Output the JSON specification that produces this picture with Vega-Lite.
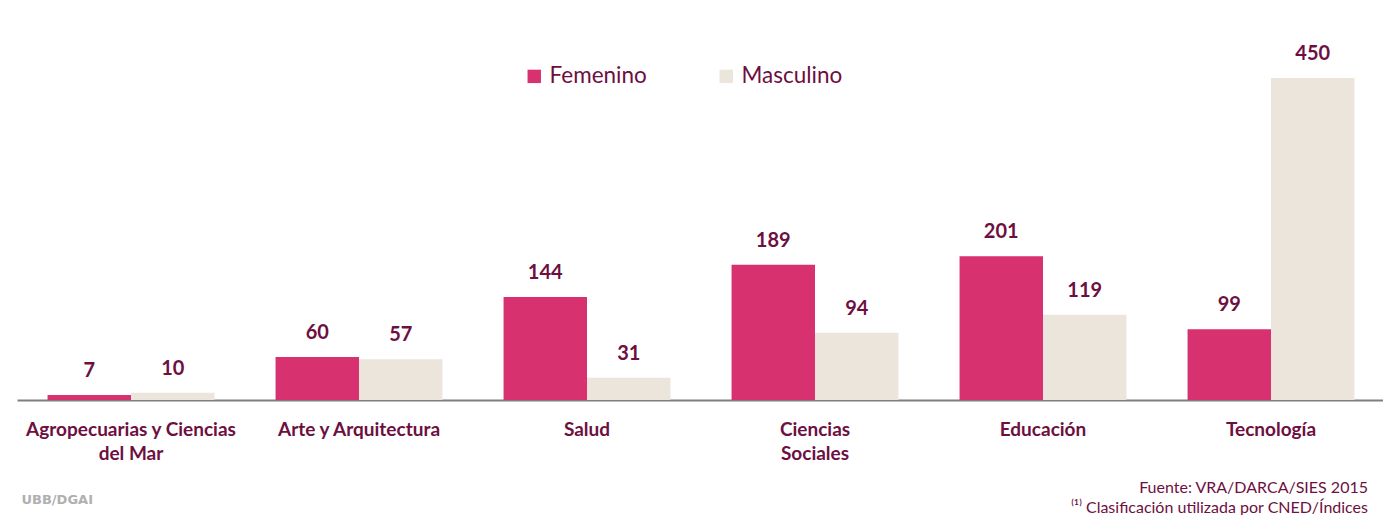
{
  "$schema": "https://vega.github.io/schema/vega-lite/v6.json",
  "autosize": {"type": "none"},
  "width": 1368,
  "height": 322,
  "padding": {"left": 17, "top": 78, "right": 0, "bottom": 115},
  "background": "white",
  "title": {
    "text": "Fuente: VRA/DARCA/SIES 2015",
    "subtitle": "⁽¹⁾ Clasificación utilizada por CNED/Índices",
    "orient": "bottom",
    "anchor": "end",
    "dx": -17,
    "dy": -26,
    "font": "Lato",
    "fontSize": 16,
    "fontWeight": "normal",
    "color": "#6d0f3f",
    "subtitleFont": "Lato",
    "subtitleFontSize": 16,
    "subtitleColor": "#6d0f3f",
    "subtitlePadding": 4,
    "offset": 0
  },
  "data": {
    "values": [
      {"area": "Agropecuarias y Ciencias del Mar", "genero": "Femenino", "valor": 7},
      {"area": "Agropecuarias y Ciencias del Mar", "genero": "Masculino", "valor": 10},
      {"area": "Arte y Arquitectura", "genero": "Femenino", "valor": 60},
      {"area": "Arte y Arquitectura", "genero": "Masculino", "valor": 57},
      {"area": "Salud", "genero": "Femenino", "valor": 144},
      {"area": "Salud", "genero": "Masculino", "valor": 31},
      {"area": "Ciencias Sociales", "genero": "Femenino", "valor": 189},
      {"area": "Ciencias Sociales", "genero": "Masculino", "valor": 94},
      {"area": "Educación", "genero": "Femenino", "valor": 201},
      {"area": "Educación", "genero": "Masculino", "valor": 119},
      {"area": "Tecnología", "genero": "Femenino", "valor": 99},
      {"area": "Tecnología", "genero": "Masculino", "valor": 450}
    ]
  },
  "encoding": {
    "x": {
      "field": "area",
      "type": "nominal",
      "sort": null,
      "scale": {"paddingInner": 0.268, "paddingOuter": 0.134},
      "axis": {
        "title": "UBB/DGAI",
        "titleAnchor": "start",
        "titleColor": "#b0b0b0",
        "titleFont": "DejaVu Sans",
        "titleFontSize": 13,
        "titleFontWeight": "bold",
        "titlePadding": 30,
        "titleX": 4,
        "labelAngle": 0,
        "ticks": false,
        "domainColor": "#7f7f7f",
        "domainWidth": 2,
        "labelPadding": 20,
        "labelFont": "Lato",
        "labelFontSize": 19,
        "labelFontWeight": "bold",
        "labelColor": "#6d0f3f",
        "labelLineHeight": 24,
        "labelLimit": 400,
        "labelExpr": "datum.label == 'Agropecuarias y Ciencias del Mar' ? ['Agropecuarias y Ciencias', 'del Mar'] : datum.label == 'Ciencias Sociales' ? ['Ciencias', 'Sociales'] : datum.label"
      }
    },
    "xOffset": {"field": "genero", "type": "nominal", "scale": {"paddingInner": 0, "paddingOuter": 0}},
    "y": {
      "field": "valor",
      "type": "quantitative",
      "scale": {"domain": [0, 450], "nice": false},
      "axis": null
    }
  },
  "layer": [
    {
      "mark": {"type": "bar"},
      "encoding": {
        "color": {
          "field": "genero",
          "type": "nominal",
          "scale": {"domain": ["Femenino", "Masculino"], "range": ["#d8316f", "#ebe5db"]},
          "legend": {
            "title": null,
            "orient": "none",
            "legendX": 506,
            "legendY": -13,
            "direction": "horizontal",
            "symbolType": "square",
            "symbolSize": 180,
            "symbolStrokeWidth": 0,
            "labelFont": "Lato",
            "labelFontSize": 22.5,
            "labelColor": "#6d0f3f",
            "labelOffset": 4,
            "columnPadding": 68,
            "padding": 0
          }
        }
      }
    },
    {
      "mark": {"type": "text", "baseline": "alphabetic", "dy": -18, "font": "Lato", "fontSize": 20, "fontWeight": "bold", "color": "#6d0f3f"},
      "encoding": {
        "text": {"field": "valor", "type": "quantitative"}
      }
    }
  ],
  "config": {"view": {"stroke": null}}
}
